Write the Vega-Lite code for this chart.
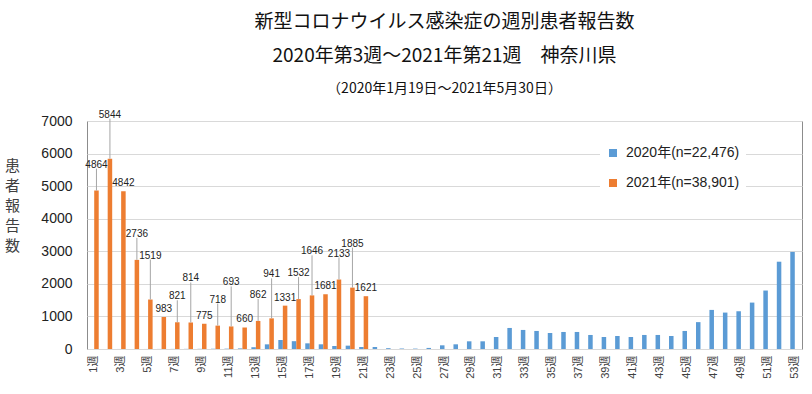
{
  "$schema": "https://vega.github.io/schema/vega-lite/v6.json",
  "width": 715,
  "height": 228,
  "autosize": {"type": "none"},
  "padding": {"left": 87, "top": 121, "right": 10, "bottom": 45},
  "background": "white",
  "title": {
    "text": ["新型コロナウイルス感染症の週別患者報告数", "2020年第3週～2021年第21週　神奈川県"],
    "subtitle": "（2020年1月19日～2021年5月30日）",
    "anchor": "middle",
    "font": "Noto Sans CJK JP",
    "fontSize": 19,
    "fontWeight": "normal",
    "lineHeight": 34,
    "color": "#111111",
    "subtitleFont": "Noto Sans CJK JP",
    "subtitleFontSize": 14,
    "subtitleColor": "#111111",
    "subtitlePadding": 16,
    "offset": 14
  },
  "config": {
    "view": {"stroke": "#8c8c8c", "strokeWidth": 1}
  },
  "data": {
    "values": [
      {"week": 3, "series": "2020年(n=22,476)", "count": 1},
      {"week": 4, "series": "2020年(n=22,476)", "count": 0},
      {"week": 5, "series": "2020年(n=22,476)", "count": 1},
      {"week": 6, "series": "2020年(n=22,476)", "count": 2},
      {"week": 7, "series": "2020年(n=22,476)", "count": 3},
      {"week": 8, "series": "2020年(n=22,476)", "count": 4},
      {"week": 9, "series": "2020年(n=22,476)", "count": 5},
      {"week": 10, "series": "2020年(n=22,476)", "count": 8},
      {"week": 11, "series": "2020年(n=22,476)", "count": 10},
      {"week": 12, "series": "2020年(n=22,476)", "count": 18},
      {"week": 13, "series": "2020年(n=22,476)", "count": 55},
      {"week": 14, "series": "2020年(n=22,476)", "count": 143},
      {"week": 15, "series": "2020年(n=22,476)", "count": 276},
      {"week": 16, "series": "2020年(n=22,476)", "count": 240},
      {"week": 17, "series": "2020年(n=22,476)", "count": 174},
      {"week": 18, "series": "2020年(n=22,476)", "count": 144},
      {"week": 19, "series": "2020年(n=22,476)", "count": 92},
      {"week": 20, "series": "2020年(n=22,476)", "count": 103},
      {"week": 21, "series": "2020年(n=22,476)", "count": 62},
      {"week": 22, "series": "2020年(n=22,476)", "count": 62},
      {"week": 23, "series": "2020年(n=22,476)", "count": 25},
      {"week": 24, "series": "2020年(n=22,476)", "count": 15},
      {"week": 25, "series": "2020年(n=22,476)", "count": 12},
      {"week": 26, "series": "2020年(n=22,476)", "count": 33},
      {"week": 27, "series": "2020年(n=22,476)", "count": 113},
      {"week": 28, "series": "2020年(n=22,476)", "count": 144},
      {"week": 29, "series": "2020年(n=22,476)", "count": 236},
      {"week": 30, "series": "2020年(n=22,476)", "count": 236},
      {"week": 31, "series": "2020年(n=22,476)", "count": 369},
      {"week": 32, "series": "2020年(n=22,476)", "count": 646},
      {"week": 33, "series": "2020年(n=22,476)", "count": 585},
      {"week": 34, "series": "2020年(n=22,476)", "count": 554},
      {"week": 35, "series": "2020年(n=22,476)", "count": 492},
      {"week": 36, "series": "2020年(n=22,476)", "count": 523},
      {"week": 37, "series": "2020年(n=22,476)", "count": 523},
      {"week": 38, "series": "2020年(n=22,476)", "count": 431},
      {"week": 39, "series": "2020年(n=22,476)", "count": 369},
      {"week": 40, "series": "2020年(n=22,476)", "count": 400},
      {"week": 41, "series": "2020年(n=22,476)", "count": 369},
      {"week": 42, "series": "2020年(n=22,476)", "count": 431},
      {"week": 43, "series": "2020年(n=22,476)", "count": 431},
      {"week": 44, "series": "2020年(n=22,476)", "count": 400},
      {"week": 45, "series": "2020年(n=22,476)", "count": 554},
      {"week": 46, "series": "2020年(n=22,476)", "count": 825},
      {"week": 47, "series": "2020年(n=22,476)", "count": 1200},
      {"week": 48, "series": "2020年(n=22,476)", "count": 1118},
      {"week": 49, "series": "2020年(n=22,476)", "count": 1159},
      {"week": 50, "series": "2020年(n=22,476)", "count": 1425},
      {"week": 51, "series": "2020年(n=22,476)", "count": 1795},
      {"week": 52, "series": "2020年(n=22,476)", "count": 2680},
      {"week": 53, "series": "2020年(n=22,476)", "count": 2980},
      {"week": 1, "series": "2021年(n=38,901)", "count": 4864},
      {"week": 2, "series": "2021年(n=38,901)", "count": 5844},
      {"week": 3, "series": "2021年(n=38,901)", "count": 4842},
      {"week": 4, "series": "2021年(n=38,901)", "count": 2736},
      {"week": 5, "series": "2021年(n=38,901)", "count": 1519},
      {"week": 6, "series": "2021年(n=38,901)", "count": 983},
      {"week": 7, "series": "2021年(n=38,901)", "count": 821},
      {"week": 8, "series": "2021年(n=38,901)", "count": 814},
      {"week": 9, "series": "2021年(n=38,901)", "count": 775},
      {"week": 10, "series": "2021年(n=38,901)", "count": 718},
      {"week": 11, "series": "2021年(n=38,901)", "count": 693},
      {"week": 12, "series": "2021年(n=38,901)", "count": 660},
      {"week": 13, "series": "2021年(n=38,901)", "count": 862},
      {"week": 14, "series": "2021年(n=38,901)", "count": 941},
      {"week": 15, "series": "2021年(n=38,901)", "count": 1331},
      {"week": 16, "series": "2021年(n=38,901)", "count": 1532},
      {"week": 17, "series": "2021年(n=38,901)", "count": 1646},
      {"week": 18, "series": "2021年(n=38,901)", "count": 1681},
      {"week": 19, "series": "2021年(n=38,901)", "count": 2133},
      {"week": 20, "series": "2021年(n=38,901)", "count": 1885},
      {"week": 21, "series": "2021年(n=38,901)", "count": 1621}
    ]
  },
  "encoding": {
    "x": {
      "field": "week",
      "type": "ordinal",
      "scale": {"paddingInner": 0.33, "paddingOuter": 0.2},
      "axis": {
        "title": null,
        "labelAngle": -90,
        "labelExpr": "datum.value % 2 == 1 ? datum.value + '週' : ''",
        "ticks": false,
        "domain": false,
        "grid": false,
        "labelPadding": 6,
        "labelFontSize": 11,
        "labelFont": "Liberation Sans, Noto Sans CJK JP",
        "labelColor": "#404040"
      }
    },
    "xOffset": {
      "field": "series",
      "type": "nominal",
      "scale": {"domain": ["2020年(n=22,476)", "2021年(n=38,901)"], "paddingInner": 0}
    }
  },
  "layer": [
    {
      "mark": {"type": "bar"},
      "encoding": {
        "y": {
          "field": "count",
          "type": "quantitative",
          "scale": {"domain": [0, 7000], "nice": false},
          "axis": {
            "values": [0, 1000, 2000, 3000, 4000, 5000, 6000, 7000],
            "format": "d",
            "labelOverlap": false,
            "title": ["患", "者", "報", "告", "数"],
            "titleAngle": 0,
            "titleFont": "Noto Sans CJK JP",
            "titleFontSize": 15,
            "titleFontWeight": "normal",
            "titleLineHeight": 20,
            "titleX": -75,
            "titleY": 37,
            "titleAlign": "center",
            "titleBaseline": "top",
            "titleColor": "#404040",
            "labelFont": "Liberation Sans",
            "labelFontSize": 14,
            "labelColor": "#222222",
            "labelPadding": 15,
            "ticks": false,
            "domain": false,
            "gridColor": "#d9d9d9",
            "gridWidth": 1.2
          }
        },
        "color": {
          "field": "series",
          "type": "nominal",
          "scale": {"domain": ["2020年(n=22,476)", "2021年(n=38,901)"], "range": ["#5b9bd5", "#ed7d31"]},
          "legend": {
            "title": null,
            "orient": "none",
            "legendX": 513,
            "legendY": 19,
            "symbolType": "square",
            "symbolSize": 64,
            "symbolStrokeWidth": 0,
            "labelFont": "Liberation Sans, Noto Sans CJK JP",
            "labelFontSize": 14,
            "labelColor": "#222222",
            "labelOffset": 6,
            "rowPadding": 16,
            "fillColor": "white",
            "padding": 6
          }
        }
      }
    },
    {
      "transform": [
        {"filter": "datum.series == '2021年(n=38,901)' && datum.week % 3 != 0"},
        {"calculate": "datum.count + (datum.week % 3 == 2 ? 1228 : 675)", "as": "labelAt"}
      ],
      "mark": {"type": "rule", "color": "#a6a6a6", "strokeWidth": 1},
      "encoding": {
        "y": {
          "field": "count",
          "type": "quantitative",
          "axis": {
            "values": [0, 1000, 2000, 3000, 4000, 5000, 6000, 7000],
            "format": "d",
            "labelOverlap": false,
            "title": ["患", "者", "報", "告", "数"],
            "titleAngle": 0,
            "titleFont": "Noto Sans CJK JP",
            "titleFontSize": 15,
            "titleFontWeight": "normal",
            "titleLineHeight": 20,
            "titleX": -75,
            "titleY": 37,
            "titleAlign": "center",
            "titleBaseline": "top",
            "titleColor": "#404040",
            "labelFont": "Liberation Sans",
            "labelFontSize": 14,
            "labelColor": "#222222",
            "labelPadding": 15,
            "ticks": false,
            "domain": false,
            "gridColor": "#d9d9d9",
            "gridWidth": 1.2
          }
        },
        "y2": {"field": "labelAt"}
      }
    },
    {
      "transform": [
        {"filter": "datum.series == '2021年(n=38,901)'"},
        {"calculate": "datum.count + (datum.week % 3 == 2 ? 1228 : datum.week % 3 == 1 ? 675 : 123)", "as": "labelAt"}
      ],
      "mark": {"type": "text", "font": "Liberation Sans", "fontSize": 10, "color": "#222222", "baseline": "alphabetic", "dy": -1},
      "encoding": {
        "y": {
          "field": "labelAt",
          "type": "quantitative",
          "axis": {
            "values": [0, 1000, 2000, 3000, 4000, 5000, 6000, 7000],
            "format": "d",
            "labelOverlap": false,
            "title": ["患", "者", "報", "告", "数"],
            "titleAngle": 0,
            "titleFont": "Noto Sans CJK JP",
            "titleFontSize": 15,
            "titleFontWeight": "normal",
            "titleLineHeight": 20,
            "titleX": -75,
            "titleY": 37,
            "titleAlign": "center",
            "titleBaseline": "top",
            "titleColor": "#404040",
            "labelFont": "Liberation Sans",
            "labelFontSize": 14,
            "labelColor": "#222222",
            "labelPadding": 15,
            "ticks": false,
            "domain": false,
            "gridColor": "#d9d9d9",
            "gridWidth": 1.2
          }
        },
        "text": {"field": "count", "type": "quantitative", "format": "d"}
      }
    }
  ]
}
